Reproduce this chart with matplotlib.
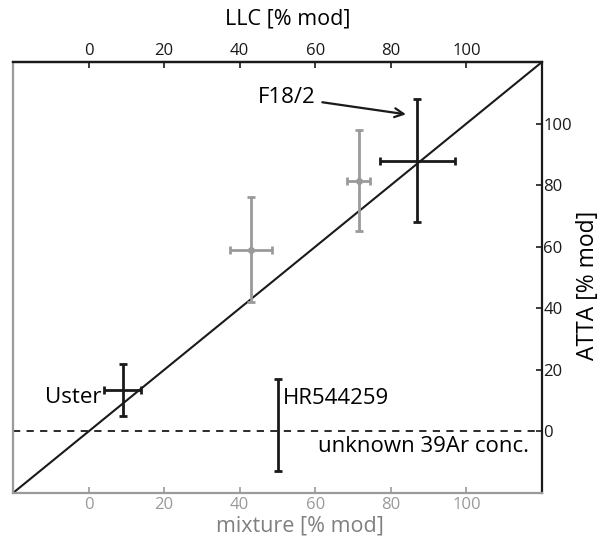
import matplotlib
matplotlib.use("Agg")
import matplotlib.pyplot as plt

plt.rcParams['font.family'] = ['Open Sans', 'DejaVu Sans']

# axis range (same for both axes, the diagonal runs corner to corner)
lims = [-20, 120]
tick_vals = [0, 20, 40, 60, 80, 100]

# samples measured against a reference value
black_names = ["Uster", "HR544259", "F18/2"]
black_x = [9, 50, 87]
black_y = [13.5, 2, 88]
black_xerr = [5, None, 10]
black_yerr = [8.5, 15, 20]

gray_x = [43, 71.5]
gray_y = [59, 81.5]
gray_xerr = [5.5, 3]
gray_yerr = [17, 16.5]

gray = '#9a9a9a'
dark = '#1a1a1a'

W, H = 609, 547
fig = plt.figure(figsize=(W / 100, H / 100), dpi=100)
ax = fig.add_axes([13 / W, 54 / H, 529 / W, 431 / H])
ax.set_xlim(lims)
ax.set_ylim(lims)

# 1:1 line and zero line
ax.plot(lims, lims, color=dark, lw=1.5)
ax.axhline(0, color=dark, lw=1.3, ls=(0, (4, 3.5)))

for x, y, xe, ye in zip(gray_x, gray_y, gray_xerr, gray_yerr):
    ax.errorbar(x, y, xerr=xe, yerr=ye, fmt='o', ms=4, color=gray,
                elinewidth=2, capsize=3, capthick=2)

for x, y, xe, ye in zip(black_x, black_y, black_xerr, black_yerr):
    ax.errorbar(x, y, xerr=xe, yerr=ye, fmt='none', color=dark,
                elinewidth=2, capsize=3, capthick=2)

# labels
fs = 16
ax.text(-4, 11, "Uster", fontsize=fs, ha='center', va='center')
ax.text(51.3, 10.7, "HR544259", fontsize=fs, ha='left', va='center')
ax.text(116.5, -5, "unknown 39Ar conc.", fontsize=fs, ha='right', va='center')
ax.annotate("F18/2", xy=(84, 103), xytext=(52.4, 108.6), fontsize=fs,
            ha='center', va='center',
            arrowprops=dict(arrowstyle='->', lw=1.6, color=dark,
                            mutation_scale=16, shrinkA=3, shrinkB=0))

# spines
ax.spines['left'].set_color(gray)
ax.spines['bottom'].set_color(gray)
ax.spines['top'].set_color(dark)
ax.spines['right'].set_color(dark)
for s in ax.spines.values():
    s.set_linewidth(1.6)

# bottom axis (mixture), gray
ax.set_xticks(tick_vals)
ax.tick_params(axis='x', direction='in', length=4, width=1.2, colors=gray,
               labelsize=12, pad=3)

# right axis (ATTA)
ax.yaxis.tick_right()
ax.set_yticks(tick_vals)
ax.tick_params(axis='y', direction='in', length=4, width=1.2, colors=dark,
               labelsize=12, pad=1)

# top axis (LLC)
top = ax.secondary_xaxis('top')
top.set_xticks(tick_vals)
top.tick_params(direction='in', length=4, width=1.2, colors=dark,
                labelsize=12, pad=2)
top.spines['top'].set_linewidth(1.6)

# axis titles placed in figure pixels
fig.text(288 / W, 1 - 19 / H, "LLC [% mod]", fontsize=15.5,
         ha='center', va='center')
fig.text(300 / W, 1 - 526 / H, "mixture [% mod]", fontsize=15.5,
         color='#808080', ha='center', va='center')
fig.text(588 / W, 1 - 285 / H, "ATTA [% mod]", fontsize=16.5, rotation=90,
         ha='center', va='center')

fig.savefig("out.png", dpi=100)
